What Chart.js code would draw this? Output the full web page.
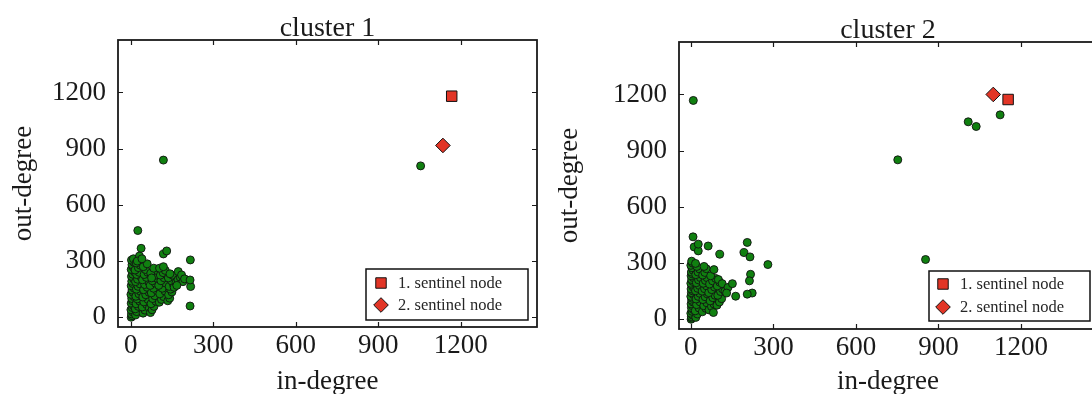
<!DOCTYPE html>
<html>
<head>
<meta charset="utf-8">
<script src="https://cdn.jsdelivr.net/npm/chart.js@4.4.1/dist/chart.umd.min.js"></script>
<style>
  html, body { margin: 0; padding: 0; background: #fff; overflow: hidden; width: 1092px; height: 394px; }
  #wrap { position: relative; width: 1092px; height: 394px; overflow: hidden; }
  canvas { position: absolute; top: 0; }
  #c1 { left: 0; }
  #c2 { left: 546px; }
</style>
</head>
<body>
<div id="wrap">
  <canvas id="c1" width="546" height="394"></canvas>
  <canvas id="c2" width="560" height="394"></canvas>
</div>
<script>
// Axis ticks shared by both panels
const xTicks = [0, 300, 600, 900, 1200];
const yTicks = [0, 300, 600, 900, 1200];

// Legend entries
const sentinelLabels = ['1. sentinel node', '2. sentinel node'];

// Cluster 1: [in-degree, out-degree] per node
const cluster1Nodes = [
  [2,0],[5,8],[3,18],[8,28],[1,40],[6,52],[10,62],[2,75],[7,88],[4,100],[12,110],[1,122],[9,133],[5,145],
  [13,155],[2,168],[8,180],[4,192],[11,205],[3,218],[7,230],[14,242],[2,255],[9,268],[5,280],[12,293],[3,305],[10,312],
  [18,12],[22,30],[17,45],[28,58],[20,72],[33,85],[24,98],[19,112],[30,125],[36,138],[21,150],[27,165],[34,178],
  [18,190],[25,203],[38,215],[22,228],[31,240],[16,252],[28,265],[35,278],[20,290],[32,327],[26,463],[38,368],[24,300],
  [45,22],[52,38],[42,55],[58,68],[48,82],[63,95],[44,108],[55,120],[67,133],[47,147],[60,160],[51,175],[66,188],
  [43,200],[57,213],[49,228],[62,240],[54,255],[46,270],[60,285],[68,48],[41,312],
  [72,25],[78,40],[85,58],[74,72],[92,85],[80,100],[88,115],[75,130],[96,142],[83,155],[71,170],[90,182],[79,195],
  [95,208],[86,222],[73,235],[98,248],[84,262],[76,210],
  [104,80],[112,95],[120,110],[106,125],[125,140],[115,155],[102,170],[128,182],[110,195],[122,210],[108,225],
  [118,238],[126,250],[105,262],[119,270],[119,338],[131,354],
  [135,88],[142,102],[138,120],[150,135],[145,150],[140,165],[155,178],[148,195],[137,210],[152,225],[143,232],[158,160],
  [165,185],[172,200],[180,214],[173,244],[190,190],[185,226],[196,205],[168,170],
  [216,60],[218,164],[216,199],[217,306],
  [119,839],[1054,808]
];
const cluster1Sentinel1 = [1167, 1180];
const cluster1Sentinel2 = [1135, 917];

// Cluster 2: [in-degree, out-degree] per node
const cluster2Nodes = [
  [1,0],[4,6],[2,14],[7,22],[0,32],[5,42],[9,52],[2,62],[6,72],[1,82],[8,92],[3,102],[5,112],[0,122],[9,132],
  [2,142],[6,152],[1,162],[8,172],[4,182],[0,192],[7,202],[3,212],[9,222],[1,232],[5,242],[2,252],[8,262],
  [4,275],[0,288],[6,300],[3,310],[12,386],[8,440],[9,1168],
  [18,10],[24,28],[16,45],[30,60],[21,78],[34,92],[19,108],[27,122],[33,138],[17,152],[25,165],[31,180],[20,195],
  [28,210],[35,222],[18,238],[26,252],[32,268],[22,282],[17,298],[27,365],[27,401],
  [42,40],[55,58],[47,72],[58,88],[44,105],[52,120],[60,135],[41,150],[50,163],[57,178],[45,192],[53,207],
  [59,222],[43,236],[51,250],[56,270],[63,391],[48,282],
  [66,50],[75,68],[84,82],[70,98],[80,115],[88,128],[65,142],[76,158],[86,172],[68,188],[79,205],[90,218],
  [72,232],[84,265],[82,36],
  [95,75],[104,92],[112,110],[98,128],[108,148],[115,162],[96,178],[105,198],[100,212],[114,190],[105,347],
  [124,150],[135,170],[151,190],[163,123],[130,140],
  [193,356],[205,410],[215,333],[280,292],[217,240],[213,205],[223,140],[205,134],
  [752,851],[1008,1054],[1037,1029],[1124,1091],[853,319]
];
const cluster2Sentinel1 = [1153, 1173];
const cluster2Sentinel2 = [1099, 1200];

const SERIF = '"Liberation Serif", "DejaVu Serif", serif';
const INK = '#1a1a1a';
const GREEN = '#108010';
const RED = '#e23526';
const EDGE = '#111111';

const toPts = arr => arr.map(p => ({ x: p[0], y: p[1] }));

// Frame with inward ticks on all four sides, plus the boxed key
const frameAndKey = {
  id: 'frameAndKey',
  afterDraw(chart, args, o) {
    const { ctx, chartArea: a, scales } = chart;
    ctx.save();
    ctx.strokeStyle = INK;
    ctx.lineWidth = 1.2;
    const tl = 5;
    ctx.beginPath();
    xTicks.forEach(v => {
      const px = Math.round(scales.x.getPixelForValue(v)) + 0.5;
      ctx.moveTo(px, a.bottom); ctx.lineTo(px, a.bottom - tl);
      ctx.moveTo(px, a.top); ctx.lineTo(px, a.top + tl);
    });
    yTicks.forEach(v => {
      const py = Math.round(scales.y.getPixelForValue(v)) + 0.5;
      ctx.moveTo(a.left, py); ctx.lineTo(a.left + tl, py);
      ctx.moveTo(a.right, py); ctx.lineTo(a.right - tl, py);
    });
    ctx.stroke();
    ctx.lineWidth = 1.8;
    ctx.strokeRect(a.left, a.top, a.right - a.left, a.bottom - a.top);

    // key box
    const bx = a.right - o.insetRight - o.width;
    const by = a.bottom - o.insetBottom - o.height;
    ctx.fillStyle = '#ffffff';
    ctx.fillRect(bx, by, o.width, o.height);
    ctx.lineWidth = 1.5;
    ctx.strokeStyle = EDGE;
    ctx.strokeRect(bx, by, o.width, o.height);

    const mx = bx + o.markerX;
    const rows = [by + o.row1, by + o.row2];
    const ds = chart.data.datasets;
    ctx.font = '16.5px ' + SERIF;
    ctx.textBaseline = 'middle';
    ctx.textAlign = 'left';
    [1, 2].forEach((di, i) => {
      const d = ds[di];
      ctx.fillStyle = d.backgroundColor;
      ctx.strokeStyle = d.borderColor;
      ctx.lineWidth = 1;
      Chart.helpers.drawPoint(ctx, { pointStyle: d.pointStyle, radius: d.pointRadius, borderWidth: 1 }, mx, rows[i]);
      ctx.fillStyle = '#262626';
      ctx.fillText(sentinelLabels[i], bx + o.textX, rows[i] + 1);
    });
    ctx.restore();
  }
};

function buildPanel(id, cfg) {
  const tickFont = { family: SERIF, size: 27, lineHeight: 1 };
  const labelFont = { family: SERIF, size: 27, lineHeight: 0.5 };
  return new Chart(document.getElementById(id), {
    type: 'scatter',
    data: {
      datasets: [
        { label: 'nodes', data: toPts(cfg.nodes), pointStyle: 'circle', pointRadius: 4,
          borderWidth: 0.9, backgroundColor: GREEN, borderColor: EDGE },
        { label: sentinelLabels[0], data: toPts([cfg.s1]), pointStyle: 'rect', pointRadius: 7.4,
          borderWidth: 1, backgroundColor: RED, borderColor: EDGE },
        { label: sentinelLabels[1], data: toPts([cfg.s2]), pointStyle: 'rectRot', pointRadius: 7.3,
          borderWidth: 1, backgroundColor: RED, borderColor: EDGE }
      ]
    },
    options: {
      responsive: false,
      animation: false,
      events: [],
      layout: { autoPadding: false, padding: { left: 0, right: cfg.padRight, top: 0, bottom: 0 } },
      plugins: {
        legend: { display: false },
        tooltip: { enabled: false },
        title: {
          display: true, text: cfg.title, fullSize: false, color: INK,
          font: { family: SERIF, size: 28, weight: 'normal', lineHeight: 0.8 },
          padding: { top: cfg.titleTop, bottom: cfg.titleBottom }
        },
        frameAndKey: cfg.key
      },
      scales: {
        x: {
          type: 'linear', min: cfg.xMin, max: cfg.xMax,
          afterBuildTicks: s => { s.ticks = xTicks.map(v => ({ value: v })); },
          afterFit: s => { s.height = cfg.xAxisH; },
          grid: { display: false, drawTicks: false, tickLength: 0 }, border: { display: false },
          ticks: { font: tickFont, color: INK, padding: 5, maxRotation: 0, autoSkip: false,
                   callback: v => String(v) },
          title: { display: true, text: 'in-degree', color: INK, font: labelFont, padding: { top: 0, bottom: 5 } }
        },
        y: {
          type: 'linear', min: cfg.yMin, max: cfg.yMax,
          afterBuildTicks: s => { s.ticks = yTicks.map(v => ({ value: v })); },
          afterFit: s => { s.width = cfg.yAxisW; },
          grid: { display: false, drawTicks: false, tickLength: 0 }, border: { display: false },
          ticks: { font: tickFont, color: INK, padding: 12, autoSkip: false,
                   callback: v => String(v) },
          title: { display: true, text: 'out-degree', color: INK, font: labelFont, padding: { top: 17, bottom: 0 } }
        }
      }
    },
    plugins: [frameAndKey]
  });
}

buildPanel('c1', {
  title: 'cluster 1', nodes: cluster1Nodes, s1: cluster1Sentinel1, s2: cluster1Sentinel2,
  xMin: -46, xMax: 1477, yMin: -52, yMax: 1480,
  padRight: 9, xAxisH: 67, yAxisW: 118, titleTop: 17, titleBottom: 0.6,
  key: { width: 162, height: 51, insetRight: 9, insetBottom: 7, markerX: 15, textX: 32, row1: 14, row2: 36 }
});

buildPanel('c2', {
  title: 'cluster 2', nodes: cluster2Nodes, s1: cluster2Sentinel1, s2: cluster2Sentinel2,
  xMin: -43, xMax: 1476, yMin: -52, yMax: 1480,
  padRight: 9, xAxisH: 65, yAxisW: 133, titleTop: 19, titleBottom: 0.6,
  key: { width: 161, height: 50, insetRight: 7, insetBottom: 8, markerX: 14, textX: 31, row1: 13, row2: 36 }
});
</script>
</body>
</html>
